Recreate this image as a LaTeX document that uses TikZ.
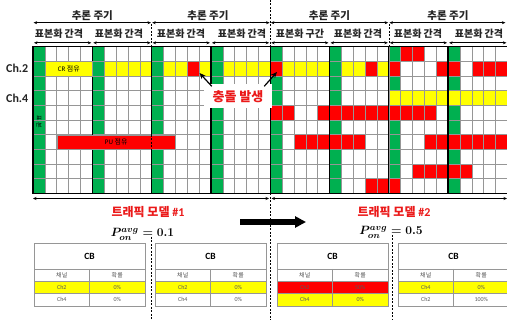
\documentclass[tikz,border=0pt]{standalone}
\usepackage[no-math]{fontspec}
\setmainfont{Noto Sans CJK KR}
\newfontfamily\lat{Carlito}
\usetikzlibrary{arrows.meta}
\definecolor{cgreen}{rgb}{0,0.69,0.314}
\definecolor{cyellow}{rgb}{1,1,0}
\definecolor{cred}{rgb}{1,0,0}
\definecolor{tred}{rgb}{0.92,0.1,0.1}
\definecolor{lgrey}{rgb}{0.59,0.59,0.59}
\definecolor{dtext}{rgb}{0.14,0.14,0.14}
\definecolor{ttext}{rgb}{0.35,0.35,0.35}
\newcommand{\gcell}[3]{\fill[#3] ({33+#1*11.86},{46.7+#2*14.66}) rectangle ++(11.86,14.66);}
\newcommand{\pform}[1]{\mbox{\mathversion{bold}$P_{on}^{avg}=#1$}}
\newcommand{\cbtable}[7]{%
  \fill[#3] (#1,281) rectangle ++(111,12.5);
  \fill[#6] (#1,293.5) rectangle ++(111,12.5);
  \draw[draw=lgrey,line width=0.5pt] (#1,243) rectangle ++(111,63);
  \draw[draw=lgrey,line width=0.5pt] (#1,269) -- ++(111,0) (#1,281) -- ++(111,0) (#1,293.5) -- ++(111,0);
  \draw[draw=lgrey,line width=0.5pt] ({#1+55.5},269) -- ({#1+55.5},306);
  \node[cbhead] (cbh#1) at ({#1+55.5},256) {\lat CB};
  \node[cbtxt] (cba#1) at ({#1+27.75},275) {채널};
  \node[cbtxt] (cbb#1) at ({#1+83.25},275) {확률};
  \node[cbtxt] (cbc#1) at ({#1+27.75},287.3) {\lat #2};
  \node[cbtxt] (cbd#1) at ({#1+83.25},287.3) {\lat #4};
  \node[cbtxt] (cbe#1) at ({#1+27.75},299.8) {\lat #5};
  \node[cbtxt] (cbf#1) at ({#1+83.25},299.8) {\lat #7};
}
\tikzset{
  gridline/.style={draw=lgrey,line width=0.45pt},
  thickline/.style={draw=black,line width=1.3pt},
  hdr/.style={font=\fontsize{10.5}{12}\selectfont\bfseries,text=dtext,inner sep=0pt},
  subhdr/.style={font=\fontsize{10}{12}\selectfont\bfseries,text=dtext,inner sep=0pt},
  harr/.style={{Stealth[length=3.5pt,width=3pt]}-{Stealth[length=3.5pt,width=3pt]},line width=0.6pt,draw=black},
  dline/.style={draw=black,line width=0.6pt,dash pattern=on 2pt off 1.5pt},
  chlab/.style={font=\lat\fontsize{12}{14}\selectfont\bfseries,text=dtext,inner sep=0pt},
  occ/.style={draw=lgrey,line width=0.45pt,inner sep=0pt,font=\fontsize{7}{8}\selectfont},
  tlab/.style={font=\fontsize{12}{14}\selectfont\bfseries,text=tred,inner sep=0pt},
  cbhead/.style={font=\fontsize{9.5}{11}\selectfont\bfseries,inner sep=0pt},
  cbtxt/.style={font=\fontsize{6}{7}\selectfont,text=ttext,inner sep=0pt},
  callout/.style={-{Stealth[length=6pt,width=5pt]},line width=1.2pt,draw=black},
  formula/.style={inner sep=0pt,font=\fontsize{12.5}{14}\selectfont}
}
\begin{document}
\begin{tikzpicture}[x=1pt,y=-1pt]
\useasboundingbox (0,0) rectangle (507,320);
\fill[white] (0,0) rectangle (507,320);
% green sampling columns
\foreach \xi in {0,5,...,35} {\fill[cgreen] ({33+\xi*11.86},46.7) rectangle ++(11.86,146.6);}
% row 1 (Ch.2) yellow
\foreach \xi in {6,7,8,9,11,12,14,16,17,18,19,21,22,23,24,26,27,29} {\gcell{\xi}{1}{cyellow}}
% row 3 (Ch.4) yellow
\foreach \xi in {30,...,39} {\gcell{\xi}{3}{cyellow}}
% red cells
\foreach \xi in {31,32} {\gcell{\xi}{0}{cred}}
\foreach \xi in {13,20,28,30,34,35,37,38,39} {\gcell{\xi}{1}{cred}}
\foreach \xi in {20,21,24,25,...,33} {\gcell{\xi}{4}{cred}}
\foreach \xi in {22,...,27,33,34,...,39} {\gcell{\xi}{6}{cred}}
\foreach \xi in {32,...,36} {\gcell{\xi}{8}{cred}}
\foreach \xi in {28,29,30} {\gcell{\xi}{9}{cred}}
% grid lines
\foreach \xi in {0,...,40} {\draw[gridline] ({33+\xi*11.86},46.7) -- ({33+\xi*11.86},193.3);}
\foreach \yj in {0,...,10} {\draw[gridline] (33,{46.7+\yj*14.66}) -- (508,{46.7+\yj*14.66});}
% thick lines
\draw[thickline] (508,46.7) -- (33,46.7) -- (33,193.3) -- (508,193.3);
\foreach \xi in {5,10,...,35} {\draw[thickline] ({33+\xi*11.86},46.7) -- ({33+\xi*11.86},193.3);}
% occupancy boxes
\node[occ,fill=cyellow,anchor=north west,minimum width=47.44pt,minimum height=14.66pt] (cr) at (44.86,61.36) {\lat CR \normalfont\fontsize{7}{8}\selectfont 점유};
\node[occ,fill=cred,anchor=north west,minimum width=118.6pt,minimum height=14.66pt] (pu) at (56.72,134.66) {\lat PU \normalfont\fontsize{7}{8}\selectfont 점유};
\draw[dline] (151.6,134.66) -- (151.6,149.32);
% vertical text in first column
\node[rotate=-90,font=\fontsize{6}{7}\selectfont,inner sep=0pt] (vt) at (39,122) {표 본};
% channel labels
\node[chlab,anchor=west] (ch2) at (6,68.7) {Ch.2};
\node[chlab,anchor=west] (ch4) at (6,98) {Ch.4};
% collision callout
\coordinate (hit1) at (199.5,73);
\coordinate (hit2) at (277,72);
\node[fill=white,inner sep=0pt,minimum width=68pt,minimum height=24pt,font=\fontsize{13}{15}\selectfont\bfseries,text=tred] (coll) at (238,96.5) {충돌 발생};
\draw[callout] ([xshift=8pt,yshift=-2pt]coll.north west) -- (hit1);
\draw[callout] ([xshift=-8pt,yshift=-2pt]coll.north east) -- (hit2);
% header: inference periods
\foreach \k/\xx in {0/92.3,1/208,2/329.5,3/448} {\node[hdr] (inf\k) at (\xx,15.5) {추론 주기};}
\foreach \k/\xx in {0/33,1/151.6,2/270.2,3/388.8,4/506} {\coordinate (pb\k) at (\xx,22.7);}
\foreach \pa/\pz in {0/1,1/2,2/3,3/4} {\draw[harr,shorten <=0.6pt,shorten >=0.6pt] (pb\pa) -- (pb\pz);}
% header: sampling intervals
\foreach \k/\xx/\tx in {0/59/표본화 간격,1/119/표본화 간격,2/181/표본화 간격,3/242/표본화 간격,4/300/표본화 구간,5/358/표본화 간격,6/418/표본화 간격,7/479/표본화 간격}
  {\node[subhdr] (smp\k) at (\xx,33.5) {\tx};}
\foreach \k in {0,...,8} {\coordinate (sb\k) at ({33+\k*59.3},42.8);}
\foreach \pa/\pz in {0/1,1/2,2/3,3/4,4/5,5/6,6/7,7/8} {\draw[harr,shorten <=1pt,shorten >=1pt] (sb\pa) -- (sb\pz);}
% dashed separators
\draw[dline] (270.2,0) -- (270.2,46.7);
\draw[dline] (151.6,24) -- (151.6,46.7);
\draw[dline] (388.8,24) -- (388.8,46.7);
\draw[dline] (270.2,193.3) -- (270.2,320);
\draw[dline] (151.6,237) -- (151.6,320);
\draw[dline] (392.7,235) -- (392.7,320);
% bottom traffic model arrows
\coordinate (tm0) at (33,198.5);
\coordinate (tm1) at (269,198.5);
\coordinate (tm2) at (271.5,198.5);
\coordinate (tm3) at (507,198.5);
\draw[harr] (tm0) -- (tm1);
\draw[harr] (tm2) -- (tm3);
\node[tlab] (tmA) at (148,212) {트래픽 모델 \lat\#1};
\node[tlab] (tmB) at (394,212) {트래픽 모델 \lat\#2};
% big transition arrow
\coordinate (ba0) at (240,222);
\coordinate (ba1) at (306,222);
\draw[line width=5.5pt,-{Triangle[length=11pt,width=11pt]}] (ba0) -- (ba1);
% formulas
\node[formula] (fA) at (142.5,234.5) {\pform{0.1}};
\node[formula] (fB) at (391,232.5) {\pform{0.5}};
% CB tables
\cbtable{34}{Ch2}{cyellow}{0\%}{Ch4}{white}{0\%}
\cbtable{155}{Ch2}{cyellow}{0\%}{Ch4}{white}{0\%}
\cbtable{277}{Ch2}{cred}{50\%}{Ch4}{cyellow}{0\%}
\cbtable{398}{Ch4}{cyellow}{0\%}{Ch2}{white}{100\%}
\end{tikzpicture}
\end{document}
